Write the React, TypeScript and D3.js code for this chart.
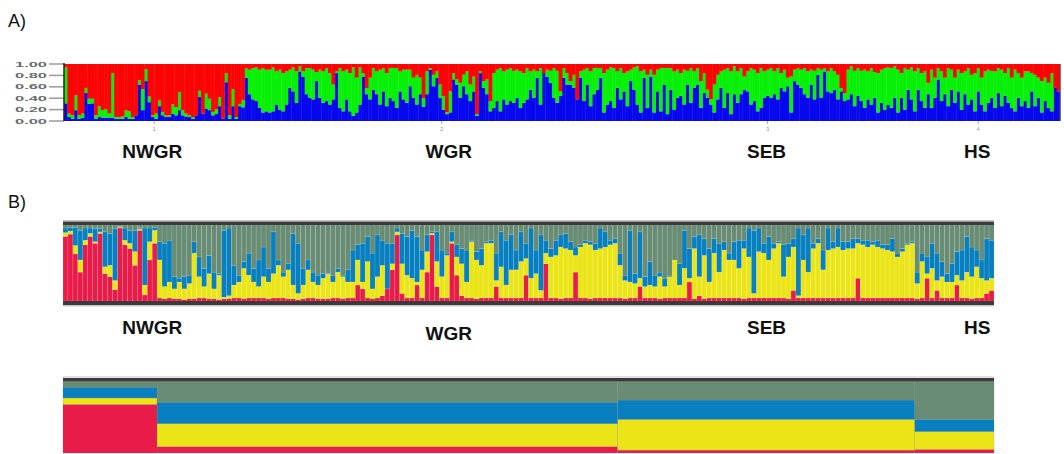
import React from 'react';
import * as d3 from 'd3';

// population names and axis labels
const popNames = ['NWGR', 'WGR', 'SEB', 'HS'];
const popTicks = ['1', '2', '3', '4'];
const yTicksA = [1, 0.8, 0.6, 0.4, 0.2, 0];

// panel A (K=3), per individual, percent blue and percent red (green = rest)
const nwgrBlueA = [31,7,4,19,4,6,49,30,31,4,7,6,6,6,6,4,4,4,7,4,4,10,64,19,70,33,7,4,26,10,7,7,13,10,19,10,8,7,4,10,42,13,22,19,10,13,26,4,68,4,26,4,26,24];
const nwgrRedA = [6,87,90,55,90,87,42,61,61,90,74,81,79,87,16,93,93,92,81,83,93,90,28,44,9,57,90,87,64,84,90,90,71,76,49,81,87,90,93,90,47,87,52,61,84,79,58,96,16,90,44,93,70,63];
const wgrBlueA = [76,47,38,35,23,15,17,15,17,29,20,17,29,58,52,32,87,
  78,47,41,38,70,41,32,35,29,38,84,23,17,38,17,9,15,29,78,47,38,55,47,29,52,26,41,35,23,52,38,32,61,41,29,47,25,47,90,61,76,41,20,12,15,73,64,41,61,47,35,52,9,84,58,47,17,23,35,17,38,29,35,32,41,23,32,38,55,41,76,29,84,78,67,
  41,32,44,76,64,64,58,38,76,35,64,26,47,55,76,15,29,35,23,58,38,52,26,70,55,29];
const wgrRedA = [7,10,7,6,10,7,10,10,6,13,10,16,13,10,6,13,4,
  13,7,7,10,14,10,13,7,16,36,13,7,13,10,16,6,24,6,16,42,24,7,13,10,7,16,7,7,7,13,10,10,10,24,19,24,60,13,7,19,13,36,56,85,48,16,27,33,19,13,36,22,88,13,30,27,65,16,10,7,13,10,7,12,10,13,16,7,13,10,13,7,16,10,12,
  7,12,48,7,16,30,19,62,13,10,7,13,7,7,7,16,10,6,7,13,7,16,13,10,6,4];
const sebBlueA = [15,76,23,78,15,52,17,64,12,55,20,41,44,29,64,32,58,64,23,49,41,29,15,38,58,23,49,12,47,32,47,55,52,29,35,17,23,41,44,41,47,38,58,52,61,15,70,64,
  58,47,41,64,38,81,41,87,52,49,55,38,52,35,38,47,26,44,35,23,38,29,41,15,32,20,29,23,41];
const sebRedA = [13,10,19,10,19,10,7,7,7,7,13,10,16,10,12,7,13,7,30,16,45,62,36,19,13,10,7,13,4,13,7,22,13,7,10,16,7,13,10,7,13,7,16,10,24,22,10,7,
  10,7,13,10,12,7,10,7,13,7,13,19,42,51,10,4,12,7,12,10,13,7,14,16,10,7,6,7,4];
const hsBlueA = [15,41,20,55,38,17,55,35,23,47,23,41,73,35,47,26,55,32,52,20,47,29,38,17,52,29,17,32,41,23,49,26,44,32,23,17,41,26,35,23,52,26,41,15,35,23,17,58,52];
const hsRedA = [10,16,7,10,6,13,7,16,13,33,10,24,7,13,24,7,10,24,10,16,13,7,19,16,7,24,13,10,12,13,7,10,16,7,24,10,16,24,13,13,16,19,24,30,24,33,16,42,48];

// panel B (K=4), percent red, yellow, blue (gray = rest)
const nwgrRedB = [85,88,62,38,74,85,76,89,36,32,15,96,74,69,47,93,8,54,76];
const nwgrYellowB = [5,4,11,16,6,4,2,2,9,15,12,1,6,7,18,2,13,24,17];
const nwgrBlueB = [6,5,24,39,16,7,17,4,46,42,68,1,16,17,28,2,75,18,4];
const wgrRedB = [4,3,4,3,3,2,3,3,4,4,3,3,2,3,3,4,4,3,4,4,4,4,3,4,4,4,3,3,2,3,4,4,3,3,3,4,4,3,4,4,21,16,4,3,4,7,16,41,87,10,4,
  4,21,4,38,87,19,4,4,76,34,7,4,4,3,4,4,4,19,4,4,4,4,4,34,4,4,4,49,4,4,3,4,4,38,4,4,3,4,4,4,4,4];
const wgrYellowB = [50,16,21,13,22,14,20,60,28,15,33,13,32,2,4,17,21,40,30,21,15,28,22,32,43,28,38,18,8,18,37,21,18,27,33,21,34,29,21,21,33,9,48,13,28,40,0,8,4,39,30,
  26,4,37,27,2,33,28,56,2,24,42,21,74,51,43,72,72,8,41,17,37,37,48,22,26,32,10,14,54,56,68,65,63,22,67,72,71,63,65,67,70,72];
const wgrBlueB = [24,57,55,16,5,16,11,15,26,24,24,22,2,88,89,26,9,9,29,18,35,39,18,55,7,6,8,68,66,22,13,13,13,6,2,9,5,2,16,42,20,51,33,47,55,33,60,27,5,40,51,
  63,60,26,22,2,39,35,3,13,16,20,42,2,11,22,2,4,36,46,59,46,26,39,20,66,31,73,17,11,20,16,20,11,11,3,4,4,9,27,20,6,6];
const sebRedB = [4,3,4,4,19,4,4,4,3,4,4,4,4,4,25,3,7,3,4,4,4,4,4,
  4,4,3,4,4,4,4,4,4,4,4,3,14,4,4,4,4,4,4,4,4,4,4,4,4,30,4,4,4,4,4,4,4,4,4,4,4];
const sebYellowB = [43,24,21,19,11,15,17,15,29,15,28,50,17,39,5,66,25,57,21,59,34,63,50,
  50,39,66,54,6,61,59,50,65,72,28,55,57,3,50,34,65,72,37,63,65,67,63,65,65,46,70,67,70,67,65,63,61,54,61,70,72];
const sebBlueB = [16,7,68,13,61,13,31,15,6,11,2,0,28,50,39,16,55,22,44,19,38,11,9,
  24,37,11,38,83,31,13,31,7,2,42,18,11,89,33,58,7,6,26,29,9,25,11,9,13,6,6,9,4,9,5,7,17,5,4,2,2];
const hsRedB = [3,4,30,4,14,4,4,4,21,4,4,3,4,4,10,14];
const hsYellowB = [20,48,6,39,13,28,21,21,13,23,34,29,41,26,17,16];
const hsBlueB = [15,11,22,33,36,20,11,24,31,40,47,39,22,24,55,50];

// population means for K=4 (percent)
const meanRed = [68, 9, 4, 5];
const meanYellow = [9, 32, 43, 25];
const meanBlue = [15, 30, 27, 17];

const colA = { blue: '#0808ee', green: '#08f008', red: '#fc0404' };
const colB = { red: '#e91b49', yellow: '#ebe517', blue: '#0880c0', gray: '#688c74' };
const font = 'Liberation Sans, Arial, sans-serif';

export default function App() {
  // ---- panel A data
  const popsA = [[nwgrBlueA, nwgrRedA], [wgrBlueA, wgrRedA], [sebBlueA, sebRedA], [hsBlueA, hsRedA]];
  const rowsA: any[] = [];
  popsA.forEach(([b, r], p) => {
    b.forEach((v, i) => {
      const red = Math.min(r[i], 100 - v);
      rowsA.push({ pop: p, blue: v / 100, green: (100 - v - red) / 100, red: red / 100 });
    });
  });
  const xA = d3.scaleLinear().domain([0, rowsA.length]).range([64, 1060]);
  const yA = d3.scaleLinear().domain([0, 1]).range([121, 64]);
  const stackA = d3.stack<any>().keys(['blue', 'green', 'red'])(rowsA);
  const countsA = popsA.map(d => d[0].length);
  const cumA = d3.cumsum(countsA);
  const startsA = countsA.map((c, i) => cumA[i] - c);
  const centersA = countsA.map((c, i) => xA(startsA[i] + c / 2));
  const labelShift = [-2, 7, -1, -1];

  // ---- panel B data
  const popsB = [[nwgrRedB, nwgrYellowB, nwgrBlueB], [wgrRedB, wgrYellowB, wgrBlueB], [sebRedB, sebYellowB, sebBlueB], [hsRedB, hsYellowB, hsBlueB]];
  const rowsB: any[] = [];
  popsB.forEach(([r, yl, b], p) => {
    r.forEach((v, i) => {
      rowsB.push({ pop: p, red: v / 100, yellow: yl[i] / 100, blue: b[i] / 100, gray: (100 - v - yl[i] - b[i]) / 100 });
    });
  });
  const xB = d3.scaleLinear().domain([0, rowsB.length]).range([63, 994]);
  const yB = d3.scaleLinear().domain([0, 1]).range([301, 225]);
  const keysB = ['red', 'yellow', 'blue', 'gray'];
  const stackB = d3.stack<any>().keys(keysB)(rowsB);
  const countsB = popsB.map(d => d[0].length);
  const cumB = d3.cumsum(countsB);
  const startsB = countsB.map((c, i) => cumB[i] - c);

  // ---- panel C (means)
  const rowsC = popNames.map((n, i) => ({
    pop: i, red: meanRed[i] / 100, yellow: meanYellow[i] / 100, blue: meanBlue[i] / 100,
    gray: (100 - meanRed[i] - meanYellow[i] - meanBlue[i]) / 100,
  }));
  const yC = d3.scaleLinear().domain([0, 1]).range([453, 381.5]);
  const stackC = d3.stack<any>().keys(keysB)(rowsC);

  return (
    <svg width={1064} height={454} style={{ position: 'absolute', left: 0, top: 0, background: '#fff' }}>
      {/* ---------- A ---------- */}
      <text x={8} y={27} fontFamily={font} fontSize={18} fill="#111">A)</text>
      {yTicksA.map(t => (
        <g key={t}>
          <text x={15} y={yA(t) + 2.5} fontFamily={font} fontSize={7} fontWeight="bold" fill="#6a6a6a"
            textLength={32} lengthAdjust="spacingAndGlyphs">{t.toFixed(2)}</text>
          <line x1={49} x2={64} y1={yA(t)} y2={yA(t)} stroke="#9a9a9a" strokeWidth={1.5} />
        </g>
      ))}
      {stackA.map(s => (
        <g key={s.key} fill={(colA as any)[s.key]}>
          {s.map((d, i) => (
            <rect key={i} x={xA(i)} width={xA(i + 1) - xA(i) + 0.4} y={yA(d[1])} height={Math.max(0, yA(d[0]) - yA(d[1]))} />
          ))}
        </g>
      ))}
      <line x1={64} x2={64} y1={63} y2={121} stroke="#222" strokeWidth={1.5} />
      <line x1={1060} x2={1060} y1={64} y2={121} stroke="#445" strokeWidth={1} />
      {cumA.slice(0, 3).map((c, i) => (
        <g key={i}>
          <line x1={xA(c)} x2={xA(c)} y1={64} y2={121} stroke="#111" strokeWidth={1.5} />
          <line x1={xA(c)} x2={xA(c)} y1={28} y2={53} stroke="#222" strokeWidth={1.4} />
          <polygon points={`${xA(c) - 4},52 ${xA(c) + 4},52 ${xA(c)},62`} fill="#222" />
        </g>
      ))}
      {popTicks.map((t, i) => (
        <g key={t}>
          <line x1={centersA[i]} x2={centersA[i]} y1={121} y2={124} stroke="#aaa" />
          <text x={centersA[i]} y={131} textAnchor="middle" fontFamily={font} fontSize={6} fill="#999">{t}</text>
        </g>
      ))}
      {popNames.map((n, i) => (
        <text key={n} x={centersA[i] + labelShift[i]} y={158} textAnchor="middle" fontFamily={font} fontSize={19} fontWeight="bold" fill="#111">{n}</text>
      ))}

      {/* ---------- B ---------- */}
      <text x={8} y={208} fontFamily={font} fontSize={18} fill="#111">B)</text>
      {stackB.map(s => (
        <g key={s.key} fill={(colB as any)[s.key]}>
          {s.map((d, i) => (
            <rect key={i} x={xB(i)} width={xB(i + 1) - xB(i)} y={yB(d[1])} height={Math.max(0, yB(d[0]) - yB(d[1]))}
              stroke="rgba(255,255,255,0.18)" strokeWidth={0.6} />
          ))}
        </g>
      ))}
      <rect x={63} y={220} width={931} height={1} fill="#c4c4c4" />
      <rect x={63} y={221.5} width={931} height={3.5} fill="#3b3b3b" />
      <rect x={63} y={301} width={931} height={4} fill="#3b3b3b" />
      <rect x={63} y={305} width={931} height={1.5} fill="#c8c8c8" />
      {cumB.slice(0, 3).map((c, i) => (
        <line key={i} x1={xB(c)} x2={xB(c)} y1={225} y2={301} stroke="#4a4a4a" strokeWidth={1.2} />
      ))}
      {popNames.map((n, i) => (
        <text key={n} x={centersA[i] + labelShift[i]} y={i === 1 ? 340 : 334} textAnchor="middle" fontFamily={font} fontSize={19} fontWeight="bold" fill="#111">{n}</text>
      ))}

      {/* ---------- C (means) ---------- */}
      {stackC.map(s => (
        <g key={s.key} fill={(colB as any)[s.key]}>
          {s.map((d, i) => (
            <rect key={i} x={xB(startsB[i])} width={xB(startsB[i] + countsB[i]) - xB(startsB[i])} y={yC(d[1])}
              height={Math.max(0, yC(d[0]) - yC(d[1]))} stroke="rgba(120,120,120,0.35)" strokeWidth={0.6} />
          ))}
        </g>
      ))}
      <rect x={63} y={376.5} width={931} height={1} fill="#c4c4c4" />
      <rect x={63} y={378} width={931} height={3.5} fill="#3b3b3b" />
      {cumB.slice(0, 3).map((c, i) => (
        <line key={i} x1={xB(c)} x2={xB(c)} y1={381} y2={454} stroke="#5a5a5a" strokeWidth={1.3} />
      ))}
    </svg>
  );
}
